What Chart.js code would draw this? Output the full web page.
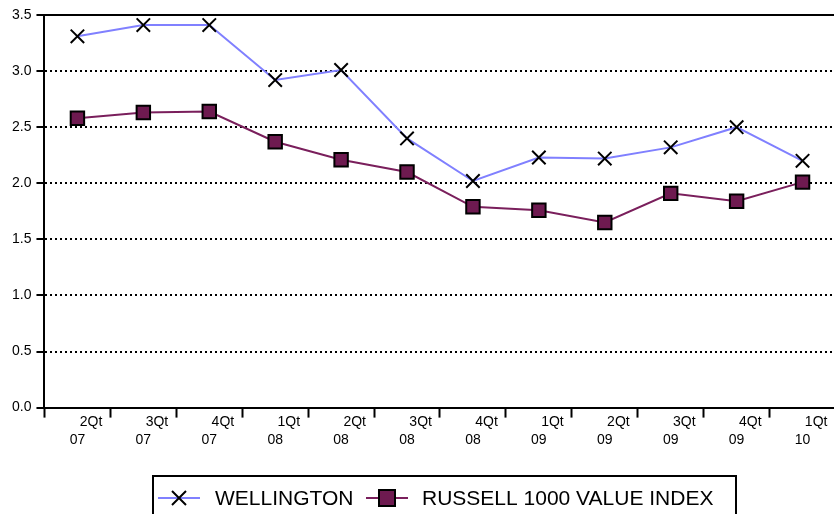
<!DOCTYPE html>
<html>
<head>
<meta charset="utf-8">
<script src="https://cdn.jsdelivr.net/npm/chart.js@4.4.1/dist/chart.umd.min.js"></script>
<style>
  html, body { margin: 0; padding: 0; background: #fff; overflow: hidden; }
  canvas { display: block; }
</style>
</head>
<body>
<!-- plot runs off the right edge in the original, so the canvas is a bit wider than the window -->
<canvas id="chart" width="847" height="514"></canvas>
<script>
// quarters shown on the x axis
const quarters = [['2Qt', '07'], ['3Qt', '07'], ['4Qt', '07'], ['1Qt', '08'], ['2Qt', '08'], ['3Qt', '08'],
                  ['4Qt', '08'], ['1Qt', '09'], ['2Qt', '09'], ['3Qt', '09'], ['4Qt', '09'], ['1Qt', '10']];
const wellington = [3.31, 3.41, 3.41, 2.92, 3.01, 2.40, 2.02, 2.23, 2.22, 2.32, 2.50, 2.20];
const russell = [2.58, 2.63, 2.64, 2.37, 2.21, 2.10, 1.79, 1.76, 1.65, 1.91, 1.84, 2.01];
const yTicks = [0, 0.5, 1, 1.5, 2, 2.5, 3, 3.5];

const FONT = 'Liberation Sans, Arial, sans-serif';

// solid top border of the plot
const frame = {
    id: 'frame',
    afterDraw(chart) {
        const ctx = chart.ctx, a = chart.chartArea;
        ctx.save();
        ctx.strokeStyle = '#000';
        ctx.lineWidth = 2;
        ctx.beginPath();
        ctx.moveTo(a.left, a.top);
        ctx.lineTo(a.right, a.top);
        ctx.stroke();
        ctx.restore();
    }
};

// legend in a box at the bottom, sample line with the marker on it
const legendBox = {
    id: 'legendBox',
    afterDraw(chart) {
        const ctx = chart.ctx;
        const cy = 498;
        const items = [{ x: 158, tx: 215 }, { x: 366, tx: 422 }];
        ctx.save();
        ctx.strokeStyle = '#000';
        ctx.lineWidth = 2;
        ctx.strokeRect(153, 476, 583, 60);
        ctx.font = '21px ' + FONT;
        ctx.textBaseline = 'middle';
        chart.data.datasets.forEach((ds, i) => {
            const it = items[i];
            ctx.strokeStyle = ds.borderColor;
            ctx.lineWidth = 2;
            ctx.beginPath();
            ctx.moveTo(it.x, cy);
            ctx.lineTo(it.x + 42, cy);
            ctx.stroke();
            const cx = it.x + 21;
            ctx.strokeStyle = '#000';
            if (ds.pointStyle === 'crossRot') {
                ctx.beginPath();
                ctx.moveTo(cx - 7, cy - 7); ctx.lineTo(cx + 7, cy + 7);
                ctx.moveTo(cx + 7, cy - 7); ctx.lineTo(cx - 7, cy + 7);
                ctx.stroke();
            } else {
                ctx.fillStyle = ds.pointBackgroundColor;
                ctx.fillRect(cx - 8, cy - 8, 16, 16);
                ctx.strokeRect(cx - 8, cy - 8, 16, 16);
            }
            ctx.fillStyle = '#000';
            ctx.fillText(ds.label, it.tx, cy + 1);
        });
        ctx.restore();
    }
};

new Chart(document.getElementById('chart'), {
    type: 'line',
    data: {
        labels: quarters,
        datasets: [{
            label: 'WELLINGTON',
            data: wellington,
            borderColor: '#8080ff',
            borderWidth: 2,
            pointStyle: 'crossRot',
            pointRadius: 9.5,
            pointBorderColor: '#000',
            pointBorderWidth: 2,
            pointBackgroundColor: '#000',
            tension: 0
        }, {
            label: 'RUSSELL 1000 VALUE INDEX',
            data: russell,
            borderColor: '#7a1f5c',
            borderWidth: 2,
            pointStyle: 'rect',
            pointRadius: 9.5,
            pointBorderColor: '#000',
            pointBorderWidth: 2,
            pointBackgroundColor: '#6e1a50',
            tension: 0
        }]
    },
    options: {
        responsive: false,
        animation: false,
        layout: { padding: { top: 15, right: -1, left: 7, bottom: 70 } },
        plugins: {
            tooltip: { enabled: false },
            legend: { display: false }
        },
        scales: {
            x: {
                offset: true,
                border: { color: '#000', width: 2 },
                grid: { offset: true, drawOnChartArea: false, tickLength: 10, tickColor: '#000', tickWidth: 2 },
                ticks: {
                    color: '#000',
                    maxRotation: 0,
                    autoSkip: false,
                    font: { family: FONT, size: 14, lineHeight: 1.3 },
                    padding: -5,
                    // first line sits right of centre, as in the original
                    callback(v, i) {
                        const q = quarters[i];
                        return ['       ' + q[0], q[1]];
                    }
                }
            },
            y: {
                min: 0,
                max: 3.5,
                afterBuildTicks(axis) { axis.ticks = yTicks.map(v => ({ value: v })); },
                border: { color: '#000', width: 2, dash: [2, 3] },
                grid: {
                    color: '#000',
                    lineWidth: 2,
                    tickLength: 8,
                    tickColor: '#000',
                    tickWidth: 2,
                    tickBorderDash: []
                },
                ticks: {
                    color: '#000',
                    font: { family: FONT, size: 14 },
                    padding: 5,
                    callback: v => v.toFixed(1)
                }
            }
        }
    },
    plugins: [frame, legendBox]
});
</script>
</body>
</html>
